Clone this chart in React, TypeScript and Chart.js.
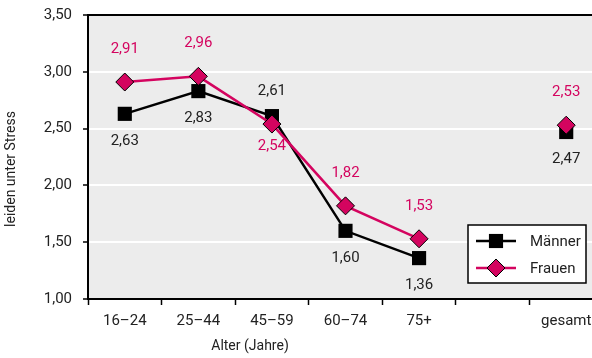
import React, { useEffect, useRef } from "react";
import { Chart, registerables } from "chart.js";

Chart.register(...registerables);

const categories = ["16–24", "25–44", "45–59", "60–74", "75+", "", "gesamt"];
const maenner = [2.63, 2.83, 2.61, 1.6, 1.36, null, 2.47];
const frauen = [2.91, 2.96, 2.54, 1.82, 1.53, null, 2.53];
const maennerLabelPos = ["below", "below", "above", "below", "below", "", "below"];
const frauenLabelPos = ["above", "above", "below", "above", "above", "", "above"];
const yTicks = [1.0, 1.5, 2.0, 2.5, 3.0, 3.5];
const yTitle = "leiden unter Stress";
const xTitle = "Alter (Jahre)";

const PINK = "#d4045f";
const FONT = "Roboto";

const fmt = (v: number) => v.toFixed(2).replace(".", ",");

export default function App() {
  const ref = useRef<HTMLCanvasElement | null>(null);

  useEffect(() => {
    document.body.style.margin = "0";
    const canvas = ref.current!;
    const bgPlugin = {
      id: "bg",
      beforeDraw(chart: any) {
        const { ctx, chartArea: a } = chart;
        ctx.save();
        ctx.fillStyle = "#ececec";
        ctx.fillRect(a.left, a.top, a.right - a.left, a.bottom - a.top);
        ctx.restore();
      },
    };
    const labelPlugin = {
      id: "labels",
      afterDatasetsDraw(chart: any) {
        const { ctx } = chart;
        ctx.save();
        ctx.font = `15px ${FONT}`;
        ctx.textAlign = "center";
        ctx.textBaseline = "middle";
        chart.data.datasets.forEach((ds: any, di: number) => {
          const meta = chart.getDatasetMeta(di);
          meta.data.forEach((pt: any, i: number) => {
            const v = ds.data[i];
            if (v == null) return;
            const pos = ds.labelPos[i];
            const off = pos === "above" ? -ds.offAbove : ds.offBelow;
            ctx.fillStyle = ds.labelColor;
            ctx.fillText(fmt(v), pt.x, pt.y + off);
          });
        });
        ctx.restore();
      },
      afterDraw(chart: any) {
        const { ctx } = chart;
        ctx.save();
        ctx.fillStyle = "#222";
        ctx.font = `14px ${FONT}`;
        ctx.textAlign = "center";
        ctx.textBaseline = "middle";
        ctx.fillText(xTitle, 250, 346);
        ctx.save();
        ctx.translate(11, 169);
        ctx.rotate(-Math.PI / 2);
        ctx.fillText(yTitle, 0, 0);
        ctx.restore();
        // legend
        const lx = 468, ly = 225, lw = 118, lh = 58;
        ctx.fillStyle = "#ffffff";
        ctx.fillRect(lx, ly, lw, lh);
        ctx.strokeStyle = "#000";
        ctx.lineWidth = 1.5;
        ctx.strokeRect(lx, ly, lw, lh);
        const order = [1, 0];
        order.forEach((di, k) => {
          const ds = chart.data.datasets[di];
          const y = ly + 16 + k * 27;
          ctx.strokeStyle = ds.borderColor;
          ctx.lineWidth = 2.5;
          ctx.beginPath();
          ctx.moveTo(lx + 8, y);
          ctx.lineTo(lx + 48, y);
          ctx.stroke();
          ctx.fillStyle = ds.pointBackgroundColor;
          ctx.strokeStyle = ds.pointBorderColor;
          ctx.lineWidth = ds.pointBorderWidth;
          ctx.beginPath();
          const r = ds.pointRadius;
          if (ds.pointStyle === "rect") {
            const s = Math.SQRT1_2 * r;
            ctx.rect(lx + 28 - s, y - s, 2 * s, 2 * s);
          } else {
            ctx.moveTo(lx + 28, y - r);
            ctx.lineTo(lx + 28 + r, y);
            ctx.lineTo(lx + 28, y + r);
            ctx.lineTo(lx + 28 - r, y);
            ctx.closePath();
          }
          ctx.fill();
          if (ds.pointBorderWidth) ctx.stroke();
          ctx.fillStyle = "#222";
          ctx.font = `15px ${FONT}`;
          ctx.textAlign = "left";
          ctx.fillText(ds.label, lx + 62, y + 1);
        });
        ctx.restore();
      },
    };

    const chart = new Chart(canvas, {
      type: "line",
      data: {
        labels: categories,
        datasets: [
          {
            label: "Frauen",
            data: frauen,
            order: 0,
            borderColor: PINK,
            borderWidth: 2.5,
            pointStyle: "rectRot",
            pointRadius: 9,
            pointHoverRadius: 9,
            pointBackgroundColor: PINK,
            pointBorderColor: "#000",
            pointBorderWidth: 1,
            spanGaps: false,
            labelPos: frauenLabelPos,
            labelColor: PINK,
            offAbove: 33,
            offBelow: 22,
          } as any,
          {
            label: "Männer",
            data: maenner,
            order: 1,
            borderColor: "#000",
            borderWidth: 2.5,
            pointStyle: "rect",
            pointRadius: 10,
            pointHoverRadius: 10,
            pointBackgroundColor: "#000",
            pointBorderColor: "#000",
            pointBorderWidth: 0,
            spanGaps: false,
            labelPos: maennerLabelPos,
            labelColor: "#222",
            offAbove: 25,
            offBelow: 27,
          } as any,
        ],
      },
      options: {
        responsive: false,
        animation: false,
        events: [],
        layout: { padding: { top: 15, left: 0, right: 0, bottom: 0 } },
        plugins: {
          legend: { display: false },
          tooltip: { enabled: false },
        },
        scales: {
          x: {
            offset: true,
            afterFit(s: any) {
              s.height = 59;
              s.paddingLeft = 0;
              s.paddingRight = 0;
            },
            grid: {
              offset: true,
              drawOnChartArea: false,
              drawTicks: true,
              tickLength: 6,
              tickColor: "#000",
              tickWidth: 1.5,
            },
            border: { display: true, color: "#000", width: 2 },
            ticks: {
              color: "#222",
              font: { family: FONT, size: 15 },
              padding: 7,
              maxRotation: 0,
              autoSkip: false,
            },
          },
          y: {
            min: 1,
            max: 3.5,
            afterFit(s: any) {
              s.width = 88;
              s.paddingTop = 0;
              s.paddingBottom = 0;
            },
            afterBuildTicks(s: any) {
              s.ticks = yTicks.map((v) => ({ value: v }));
            },
            grid: {
              color: (c: any) => (c.tick && c.tick.value === 3.5 ? "#000" : "#ffffff"),
              lineWidth: 2,
              tickColor: "#000",
              tickLength: 5,
              tickWidth: 1.5,
            },
            border: { display: true, color: "#000", width: 2 },
            ticks: {
              color: "#222",
              font: { family: FONT, size: 15 },
              padding: 11,
              callback: (v: any) => fmt(Number(v)),
            },
          },
        },
      },
      plugins: [bgPlugin, labelPlugin],
    });
    return () => chart.destroy();
  }, []);

  return (
    <div style={{ width: 592, height: 358, overflow: "hidden", background: "#fff" }}>
      <canvas ref={ref} width={613} height={358} style={{ display: "block" }} />
    </div>
  );
}
